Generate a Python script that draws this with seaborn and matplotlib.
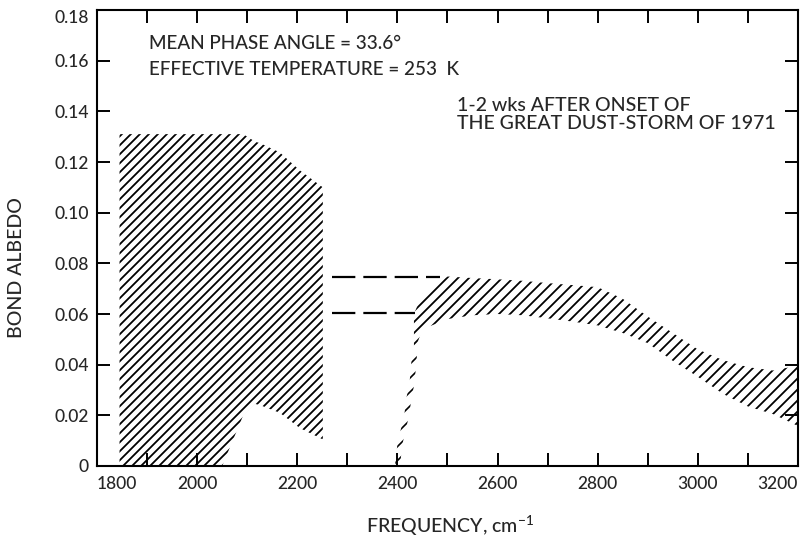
import matplotlib
matplotlib.use("Agg")
import matplotlib.pyplot as plt
import numpy as np
import seaborn as sns
from matplotlib.collections import LineCollection
from matplotlib.transforms import IdentityTransform
from matplotlib.ticker import FixedLocator, FixedFormatter, MultipleLocator

# Axis ticks
freq_ticks = [1800, 2000, 2200, 2400, 2600, 2800, 3000, 3200]
freq_labels = ["1800", "2000", "2200", "2400", "2600", "2800", "3000", "3200"]
albedo_ticks = [0, 0.02, 0.04, 0.06, 0.08, 0.10, 0.12, 0.14, 0.16, 0.18]
albedo_labels = ["0", "0.02", "0.04", "0.06", "0.08", "0.10", "0.12", "0.14", "0.16", "0.18"]

# Low-frequency albedo band (cm^-1, upper and lower bounds)
low_freq = [1845, 2050, 2092, 2116, 2126, 2165, 2205, 2251]
low_upper = [0.131, 0.131, 0.131, 0.128, 0.1274, 0.1238, 0.1167, 0.110]
low_lower = [0.0, 0.0, 0.020, 0.0245, 0.024, 0.021, 0.015, 0.0105]

# High-frequency albedo band
high_freq = [2433, 2450, 2500, 2550, 2600, 2650, 2700, 2750, 2800, 2850,
             2900, 2950, 3000, 3050, 3100, 3150, 3200]
high_upper = [0.060, 0.068, 0.0748, 0.0742, 0.0737, 0.0731, 0.0722, 0.0714, 0.0706, 0.066,
              0.059, 0.0525, 0.046, 0.0418, 0.039, 0.0377, 0.0396]
high_lower = [0.045, 0.054, 0.058, 0.0595, 0.060, 0.0595, 0.0583, 0.057, 0.0555, 0.0525,
              0.0485, 0.0415, 0.0352, 0.0285, 0.0235, 0.0205, 0.0158]

# Uncertain lower edge of the high-frequency band
edge_freq = [2400, 2405, 2411, 2419, 2423, 2429, 2435]
edge_albedo = [0.0, 0.0087, 0.0138, 0.0206, 0.027, 0.0324, 0.046]
edge_half_width = 5

# Dashed levels bridging the gap between the bands
bridge_level = [0.0748, 0.0605]
bridge_start = [2269, 2269]
bridge_end = [2485, 2435]

sns.set_theme(style="ticks")
plt.rcParams["font.family"] = ["Lato", "DejaVu Sans"]
plt.rcParams["font.weight"] = "medium"

fig = plt.figure(figsize=(8.02, 5.41), dpi=100)
ax = fig.add_axes([97 / 802, 1 - 466 / 541, 701 / 802, 456 / 541])
ax.set_xlim(1800, 3200)
ax.set_ylim(0, 0.18)


def hatch(region, spacing, lw=1.3, angle=45.0):
    """Fill a region with diagonal '/' strokes clipped to its outline."""
    x0, y0, x1, y1 = ax.get_window_extent().extents
    t = np.tan(np.radians(angle))
    step = spacing * t
    offsets = np.arange(y0 - x1 * t - step, y1 - x0 * t + step, step)
    segs = [[(x0, x0 * t + b), (x1, x1 * t + b)] for b in offsets]
    lc = LineCollection(segs, colors="black", linewidths=lw,
                        transform=IdentityTransform())
    lc.set_clip_path(region.get_paths()[0], ax.transData)
    ax.add_collection(lc, autolim=False)


low_band = ax.fill_between(low_freq, low_lower, low_upper, facecolor="none",
                           edgecolor="none", linewidth=0)
high_band = ax.fill_between(high_freq, high_lower, high_upper, facecolor="none",
                            edgecolor="none", linewidth=0)
edge_freq_arr = np.asarray(edge_freq, dtype=float)
edge_band = ax.fill_betweenx(edge_albedo, edge_freq_arr - edge_half_width,
                             edge_freq_arr + edge_half_width, facecolor="none",
                             edgecolor="none", linewidth=0)
hatch(low_band, 9.0)
hatch(high_band, 11.0)
hatch(edge_band, 14.0, lw=1.2)

for lvl, x0, x1 in zip(bridge_level, bridge_start, bridge_end):
    sns.lineplot(x=[x0, x1], y=[lvl, lvl], ax=ax, color="black",
                 linewidth=1.6, linestyle=(0, (10.5, 3.6)))

ax.set_xlim(1800, 3200)
ax.set_ylim(0, 0.18)

ax.xaxis.set_major_locator(FixedLocator(freq_ticks))
ax.xaxis.set_major_formatter(FixedFormatter(freq_labels))
ax.xaxis.set_minor_locator(MultipleLocator(100))
ax.yaxis.set_major_locator(FixedLocator(albedo_ticks))
ax.yaxis.set_major_formatter(FixedFormatter(albedo_labels))

ax.tick_params(which="both", direction="in", top=True, right=True,
               length=9.5, width=1.4, color="black")
ax.tick_params(axis="x", which="major", labelsize=12.5, pad=7)
ax.tick_params(axis="y", which="major", labelsize=12.5, pad=6)
for side in ["left", "right", "top", "bottom"]:
    ax.spines[side].set_linewidth(1.5)
    ax.spines[side].set_color("black")
ax.grid(False)

xl = ax.get_xticklabels()
xl[0].set_ha("left")
xl[-1].set_ha("right")
yl = ax.get_yticklabels()
yl[-1].set_va("top")

ax.set_xlabel("")
ax.set_ylabel("")
fig.text(450 / 802, 1 - 533 / 541, r"FREQUENCY, cm$^{\mathregular{-1}}$",
         ha="center", va="baseline", fontsize=14)
fig.text(17 / 802, 1 - 268 / 541, "BOND ALBEDO", rotation=90,
         ha="center", va="center", fontsize=14)

ax.text(1904, 0.1648, "MEAN PHASE ANGLE = 33.6°", fontsize=13.6, va="baseline")
ax.text(1904, 0.1544, "EFFECTIVE TEMPERATURE = 253  K", fontsize=13.6, va="baseline")
ax.text(2519, 0.1402, "1-2 wks AFTER ONSET OF", fontsize=14, va="baseline")
ax.text(2519, 0.1331, "THE GREAT DUST-STORM OF 1971", fontsize=14, va="baseline")

fig.savefig("out.png", dpi=100)
